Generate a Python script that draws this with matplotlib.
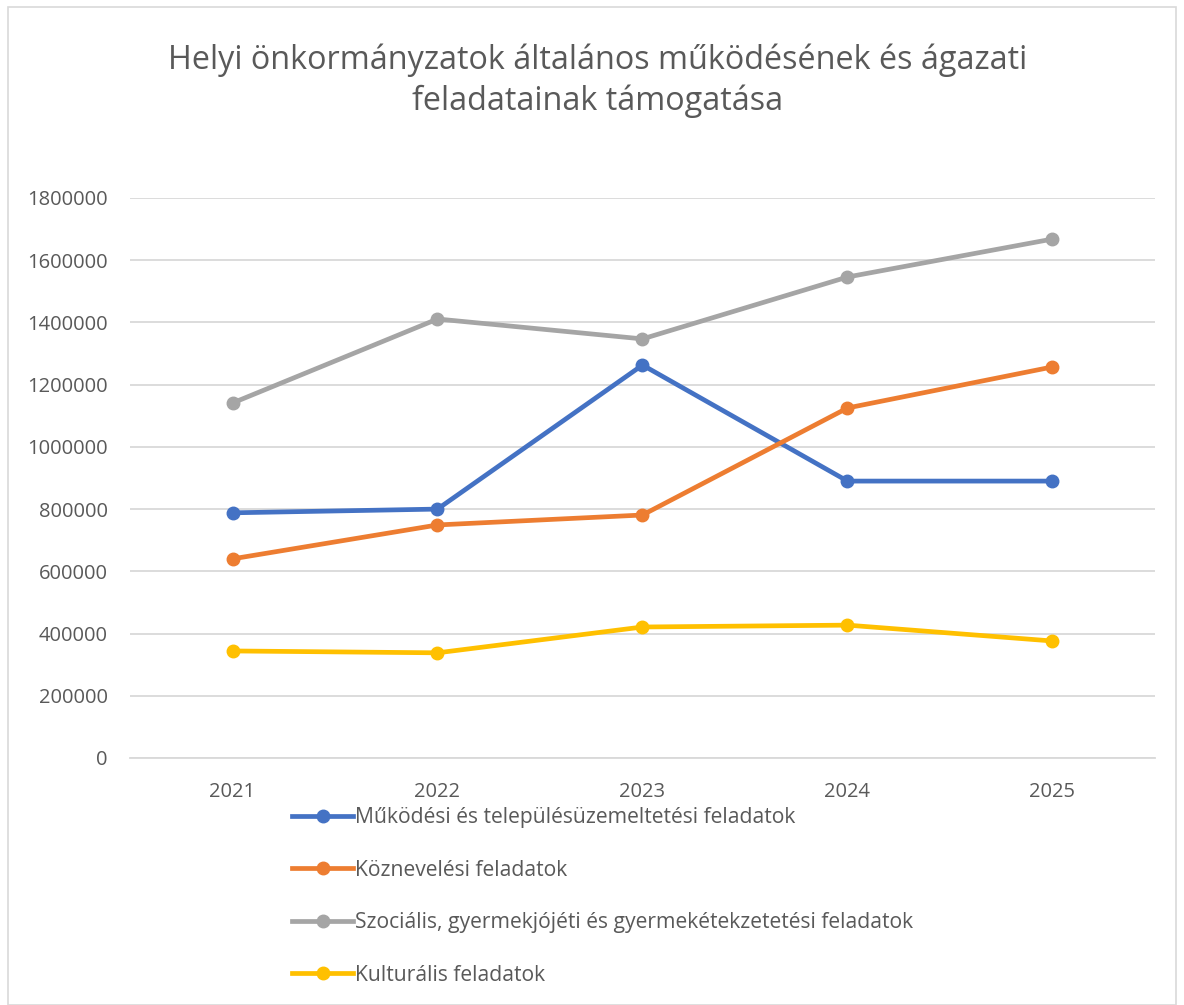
import matplotlib.pyplot as plt
from matplotlib.patches import Rectangle

plt.rcParams['font.family'] = ['Open Sans', 'DejaVu Sans']

years = ['2021', '2022', '2023', '2024', '2025']
mukodesi = [788000, 800000, 1263000, 890000, 890000]
koznevelesi = [640000, 749000, 781000, 1125000, 1257000]
szocialis = [1141000, 1411000, 1347000, 1546000, 1668000]
kulturalis = [344000, 338000, 421000, 427000, 376000]

labels = ['Működési és településüzemeltetési feladatok',
          'Köznevelési feladatok',
          'Szociális, gyermekjójéti és gyermekétekzetetési feladatok',
          'Kulturális feladatok']
colors = ['#4472C4', '#ED7D31', '#A5A5A5', '#FFC000']
yticks = [0, 200000, 400000, 600000, 800000, 1000000, 1200000, 1400000, 1600000, 1800000]

fig = plt.figure(figsize=(11.84, 10.05), dpi=100)
ax = fig.add_axes([0.1098, 0.2458, 0.8657, 0.5572])

x = list(range(len(years)))
for vals, lab, col in zip([mukodesi, koznevelesi, szocialis, kulturalis], labels, colors):
    ax.plot(x, vals, color=col, lw=3.4, marker='o', markersize=9, label=lab)

ax.set_xlim(-0.5, 4.5)
ax.set_ylim(0, 1800000)
ax.set_yticks(yticks)
ax.set_yticklabels([str(v) for v in yticks])
ax.set_xticks(x)
ax.set_xticklabels(years)
ax.grid(axis='y', color='#D9D9D9', lw=1.3)
ax.set_axisbelow(True)
for s in ['top', 'right', 'left']:
    ax.spines[s].set_visible(False)
ax.spines['bottom'].set_color('#D9D9D9')
ax.spines['bottom'].set_linewidth(1.3)
ax.tick_params(axis='both', length=0, labelsize=14.5, colors='#595959')
ax.tick_params(axis='y', pad=16)
ax.tick_params(axis='x', pad=17)

fig.suptitle('Helyi önkormányzatok általános működésének és ágazati\nfeladatainak támogatása',
             x=0.505, y=0.957, fontsize=23.3, color='#595959', linespacing=1.32)

fig.legend(loc='upper left', bbox_to_anchor=(0.2395, 0.205), frameon=False,
           fontsize=15.2, labelcolor='#595959', handlelength=2.9, handletextpad=0.1,
           labelspacing=1.49, borderaxespad=0)

fig.patches.append(Rectangle((0.007, 0.0), 0.986, 0.993, transform=fig.transFigure,
                             fill=False, edgecolor='#D9D9D9', lw=1.2))

fig.savefig('out.png', dpi=100)
